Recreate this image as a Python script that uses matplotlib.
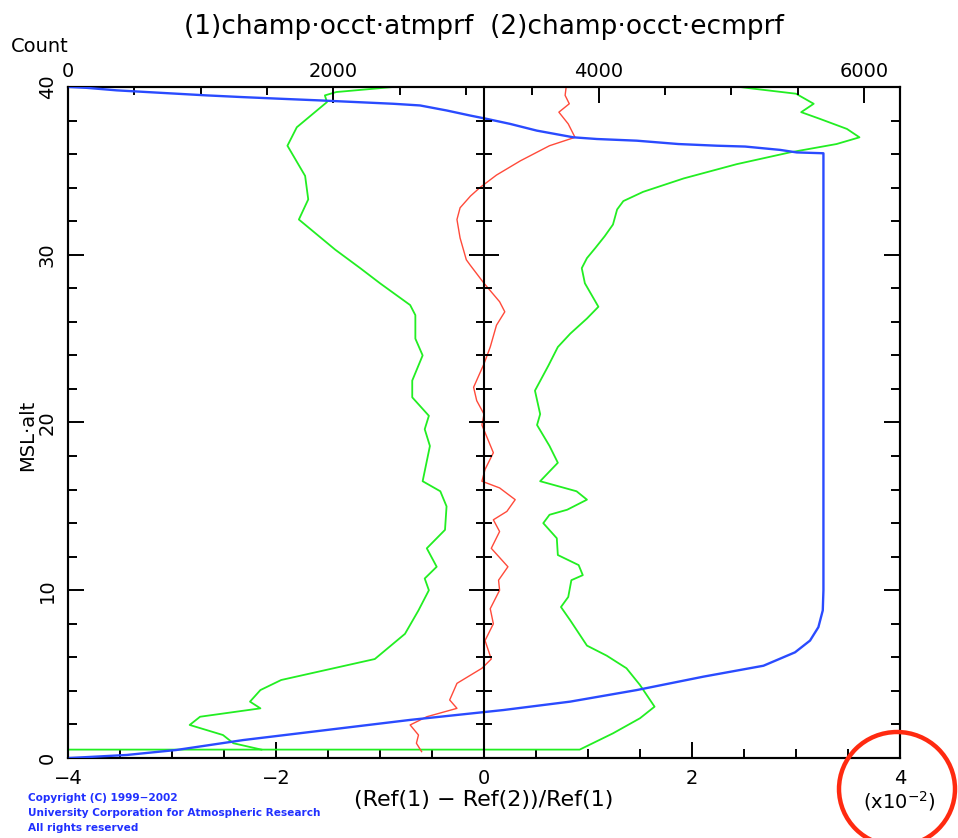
import matplotlib
matplotlib.use("Agg")
import matplotlib.pyplot as plt
from matplotlib.patches import Ellipse
from matplotlib.ticker import MultipleLocator

# ---------------- data ----------------
green_lo_y = [40, 39.7, 39.5, 39.1, 37.6, 36.5, 34.7, 33.3, 32.1, 30.3, 29.2, 28.3, 27.0, 26.4,
              25.0, 24.0, 22.5, 21.5, 20.4, 19.6, 18.6, 16.5, 15.9, 15.0, 13.6, 12.5, 11.4, 10.7,
              10.0, 8.8, 7.4, 5.9, 4.65, 4.05, 3.36, 2.96, 2.46, 1.97, 1.37, 0.88, 0.5]
green_lo_x = [-0.875, -1.42, -1.53, -1.51, -1.80, -1.89, -1.72, -1.69, -1.78, -1.43, -1.19, -1.0,
              -0.71, -0.66, -0.66, -0.59, -0.69, -0.69, -0.53, -0.57, -0.52, -0.59, -0.42, -0.36,
              -0.375, -0.55, -0.455, -0.57, -0.53, -0.63, -0.76, -1.05, -1.95, -2.15, -2.25, -2.15,
              -2.73, -2.83, -2.51, -2.41, -2.14]

green_hi_y = [40, 39.9, 39.6, 39.0, 38.5, 38.1, 37.5, 37.0, 36.6, 36.1, 35.4, 34.55, 33.75, 33.2,
              32.7, 31.8, 31.1, 30.4, 29.8, 29.2, 28.3, 26.9, 26.2, 25.3, 24.5, 23.4, 21.9, 20.5,
              19.85, 18.6, 17.6, 16.5, 15.9, 15.4, 14.8, 14.5, 14.0, 13.1, 12.1, 11.5, 10.9, 10.6,
              9.6, 9.0, 8.2, 6.7, 6.1, 5.35, 4.35, 3.06, 2.37, 1.47, 0.5, 0.5]
green_hi_x = [2.46, 2.59, 3.0, 3.17, 3.05, 3.23, 3.49, 3.61, 3.39, 2.94, 2.43, 1.92, 1.53, 1.34,
              1.28, 1.24, 1.16, 1.07, 0.99, 0.94, 0.97, 1.10, 0.99, 0.83, 0.71, 0.62, 0.49, 0.54,
              0.51, 0.63, 0.71, 0.54, 0.89, 0.99, 0.80, 0.63, 0.57, 0.70, 0.71, 0.91, 0.95, 0.84,
              0.81, 0.74, 0.83, 0.99, 1.18, 1.37, 1.5, 1.64, 1.5, 1.24, 0.92, -4.5]

red_y = [40, 39.5, 39.0, 38.5, 37.8, 37.0, 36.5, 35.6, 34.75, 34.0, 33.5, 32.8, 32.1, 31.0, 29.7,
         29.4, 28.3, 27.2, 26.6, 25.8, 24.5, 23.5, 22.1, 21.3, 20.5, 19.85, 18.2, 17.2, 16.5, 16.1,
         15.4, 14.7, 14.2, 13.5, 12.5, 11.4, 10.6, 10.0, 8.9, 8.0, 7.0, 5.9, 5.35, 4.45, 3.46, 2.96,
         2.46, 1.97, 1.37, 0.88, 0.38]
red_x = [0.79, 0.78, 0.82, 0.72, 0.81, 0.875, 0.63, 0.35, 0.12, -0.04, -0.13, -0.23, -0.26, -0.23,
         -0.17, -0.135, 0.0, 0.15, 0.2, 0.12, 0.06, 0.0, -0.1, -0.07, 0.0, -0.02, 0.09, 0.01, -0.02,
         0.15, 0.30, 0.22, 0.09, 0.15, 0.07, 0.23, 0.14, 0.15, 0.06, 0.09, 0.01, 0.07, -0.02, -0.26,
         -0.33, -0.26, -0.55, -0.71, -0.63, -0.65, -0.6]

count_y = [40, 39.95, 39.8, 39.7, 39.6, 39.5, 39.4, 39.3, 39.2, 39.1, 39.0, 38.9, 38.6, 38.3, 38.1,
           37.8, 37.4, 37.0, 36.9, 36.8, 36.6, 36.5, 36.45, 36.25, 36.1, 36.05, 10.0, 8.8, 7.8, 7.0,
           6.3, 5.5, 4.85, 4.05, 3.36, 2.86, 2.27, 1.67, 1.07, 0.48, 0.18, 0.0]
count_x = [15, 141, 367, 593, 819, 1045, 1309, 1598, 1899, 2176, 2452, 2653, 2854, 3030, 3156,
           3332, 3533, 3809, 3985, 4286, 4600, 4890, 5103, 5367, 5492, 5693, 5693, 5688, 5655, 5592,
           5479, 5241, 4789, 4286, 3784, 3282, 2578, 1950, 1321, 819, 442, 15]

x_ticks = [-4, -2, 0, 2, 4]
x_tick_labels = ["\u22124", "\u22122", "0", "2", "4"]
y_ticks = [0, 10, 20, 30, 40]
count_ticks = [0, 2000, 4000, 6000]

title = "(1)champ\u00b7occt\u00b7atmprf  (2)champ\u00b7occt\u00b7ecmprf"
xlabel = "(Ref(1) \u2212 Ref(2))/Ref(1)"
ylabel = "MSL\u00b7alt"
copyright_lines = ["Copyright (C) 1999\u22122002",
                   "University Corporation for Atmospheric Research",
                   "All rights reserved"]

# ---------------- figure ----------------
W, H = 958, 838
fig = plt.figure(figsize=(W / 100, H / 100), dpi=100)
plt.rcParams['font.family'] = ['DejaVu Sans']

L, R, T, B = 68, 900, 87, 758
pos = [L / W, 1 - B / H, (R - L) / W, (B - T) / H]

ax = fig.add_axes(pos)
ax.set_xlim(-4, 4)
ax.set_ylim(0, 40)

GREEN = "#22ee22"
RED = "#ff4a3a"
BLUE = "#2a4bff"

ax.plot(green_lo_x, green_lo_y, color=GREEN, lw=1.3, zorder=3)
ax.plot(green_hi_x, green_hi_y, color=GREEN, lw=1.3, zorder=3)
ax.plot(red_x, red_y, color=RED, lw=1.0, zorder=3)

for s in ax.spines.values():
    s.set_linewidth(1.5)
ax.set_xticks(x_ticks)
ax.set_xticklabels(x_tick_labels)
ax.xaxis.set_minor_locator(MultipleLocator(0.5))
ax.set_yticks(y_ticks)
ax.set_yticklabels([str(v) for v in y_ticks], rotation=90, va='center')
ax.yaxis.set_minor_locator(MultipleLocator(2))
ax.tick_params(which='both', direction='in', width=1.4, top=False, right=True,
               labelsize=14, pad=8)
ax.tick_params(which='major', length=11.5)
ax.tick_params(which='minor', length=6.5)

# count axis on top
axt = ax.twiny()
axt.set_xlim(0, 6270)
axt.plot(count_x, count_y, color=BLUE, lw=1.7, zorder=4)
axt.set_xticks(count_ticks)
axt.xaxis.set_minor_locator(MultipleLocator(500))
axt.tick_params(which='both', direction='in', width=1.4, labelsize=14, pad=4)
axt.tick_params(which='major', length=11.5)
axt.tick_params(which='minor', length=6)
for s in axt.spines.values():
    s.set_linewidth(1.5)

# centre line at x = 0 with ticks across
axc = fig.add_axes(pos, frameon=True)
axc.patch.set_visible(False)
axc.set_xlim(-4, 4)
axc.set_ylim(0, 40)
for k in ['right', 'top', 'bottom']:
    axc.spines[k].set_visible(False)
axc.spines['left'].set_position(('data', 0))
axc.spines['left'].set_linewidth(1.5)
axc.set_xticks([])
axc.set_yticks(y_ticks)
axc.yaxis.set_minor_locator(MultipleLocator(2))
axc.tick_params(which='both', direction='inout', width=1.4, labelleft=False)
axc.tick_params(which='major', length=21)
axc.tick_params(which='minor', length=11)

# texts
fig.text(484 / W, 1 - 27 / H, title, ha='center', va='center', fontsize=19)
fig.text(40 / W, 1 - 46 / H, "Count", ha='center', va='center', fontsize=14)
fig.text(484 / W, 1 - 800 / H, xlabel, ha='center', va='center', fontsize=16)
fig.text(899 / W, 1 - 801 / H, "(x10$^{-2}$)", ha='center', va='center', fontsize=14)
fig.text(28 / W, 1 - 435 / H, ylabel, ha='center', va='center', rotation=90, fontsize=14)
for i, line in enumerate(copyright_lines):
    fig.text(28 / W, 1 - (798 + 15 * i) / H, line, ha='left', va='center',
             fontsize=7.6, color='#2030ff', fontweight='bold')

# red hand-drawn circle annotation
ell = Ellipse((897 / W, 1 - 789 / H), 116 / W, 114 / H, transform=fig.transFigure,
              fill=False, edgecolor='#ff2a10', lw=3.2)
fig.add_artist(ell)

fig.savefig("out.png", dpi=100)
